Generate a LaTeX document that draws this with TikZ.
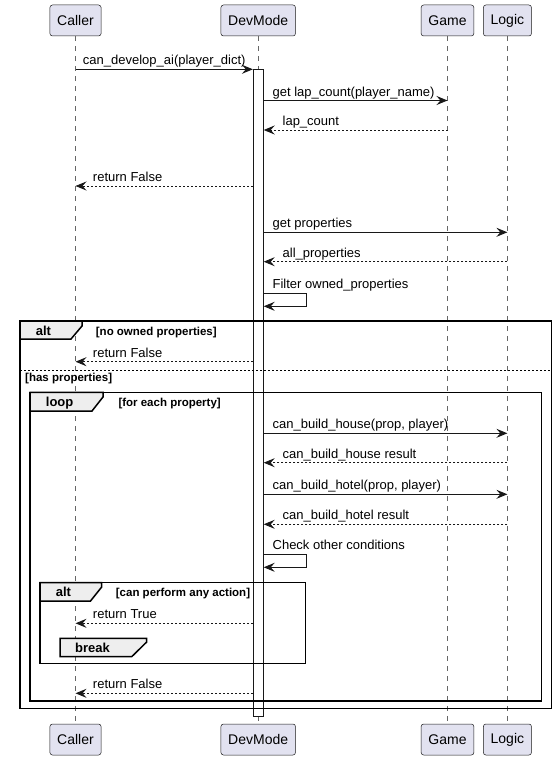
\documentclass[tikz,border=0pt]{standalone}
\usepackage{fontspec}
\setmainfont{Liberation Sans}
\usetikzlibrary{arrows.meta,positioning,calc}

\definecolor{partfill}{HTML}{E2E2F0}
\definecolor{partline}{HTML}{181818}
\definecolor{tabfill}{HTML}{EEEEEE}

\tikzset{
  part/.style={draw=partline, fill=partfill, rounded corners=2.5pt, line width=0.5pt,
    minimum height=31pt, inner xsep=7.3pt, font=\fontsize{14}{16}\selectfont},
  life/.style={draw=black!60, line width=0.5pt, dash pattern=on 5pt off 5pt},
  call/.style={draw=partline, line width=0.9pt, -{Stealth[length=11pt,width=9pt,inset=4pt]}},
  ret/.style={call, dash pattern=on 2pt off 2pt},
  lbl/.style={font=\fontsize{13}{15}\selectfont, inner sep=0pt, anchor=base west},
  frame/.style={draw=black, line width=1.5pt},
  tab/.style={frame, fill=tabfill},
  sep/.style={draw=black, line width=0.9pt, dash pattern=on 2pt off 2pt},
  grp/.style={font=\bfseries\fontsize{13}{15}\selectfont, inner sep=0pt, anchor=base west},
  cond/.style={font=\bfseries\fontsize{11.5}{13}\selectfont, inner sep=0pt, anchor=base west},
}

\begin{document}
\begin{tikzpicture}[x=1pt, y=-1pt]
  \useasboundingbox (0,0) rectangle (557,760);

  % participants, top and bottom
  \node[part] (callerT) at (75.5,20.5) {Caller};
  \node[part] (devT)    at (258.2,20.5) {DevMode};
  \node[part] (gameT)   at (447.5,20.5) {Game};
  \node[part] (logicT)  at (507.4,20.5) {Logic};
  \node[part] (callerB) at (75.5,739.5) {Caller};
  \node[part] (devB)    at (258.2,739.5) {DevMode};
  \node[part] (gameB)   at (447.5,739.5) {Game};
  \node[part] (logicB)  at (507.4,739.5) {Logic};

  % lifelines
  \draw[life] (callerT) -- (callerB);
  \draw[life] (devT) -- (devB);
  \draw[life] (gameT) -- (gameB);
  \draw[life] (logicT) -- (logicB);

  % DevMode activation
  \node[draw=partline, fill=white, line width=0.8pt, minimum width=10pt,
    minimum height=646.4pt, inner sep=0pt, anchor=north] (act) at (258.3,69.3) {};

  % outer alt
  \draw[frame] (20,321) rectangle (551.7,708.5);
  \draw[tab] (20,321) -- (82,321) -- (82,326) -- (71,339) -- (20,339) -- cycle;
  \node[grp] (altA) at (35.7,335.3) {alt};
  \node[cond] (altAif) at (95.7,335) {[no owned properties]};
  \draw[sep] (20,370.7) -- (551.7,370.7);
  \node[cond] (altAelse) at (25,381.7) {[has properties]};

  % loop over properties
  \draw[frame] (30,392.3) rectangle (541.7,701);
  \draw[tab] (30,392.3) -- (103,392.3) -- (103,397) -- (92,411) -- (30,411) -- cycle;
  \node[grp] (loopA) at (45.7,406.5) {loop};
  \node[cond] (loopAc) at (118.3,406.5) {[for each property]};

  % inner alt
  \draw[frame] (40,582.7) rectangle (305.7,663.3);
  \draw[tab] (40,582.7) -- (101.7,582.7) -- (101.7,587) -- (90.5,601) -- (40,601) -- cycle;
  \node[grp] (altB) at (55.7,596) {alt};
  \node[cond] (altBc) at (115.7,596) {[can perform any action]};

  % break
  \draw[tab] (60,638.3) -- (146.7,638.3) -- (146.7,642) -- (131.7,656.7) -- (60,656.7) -- cycle;
  \node[grp] (brk) at (75,652.3) {break};

  % messages
  \draw[call] (callerT |- 0,69.3) -- (act.west |- 0,69.3)
    node[lbl, pos=0, xshift=7pt, yshift=4.5pt] (m1) {can\_develop\_ai(player\_dict)};
  \draw[call] (act.east |- 0,100.5) -- (gameT |- 0,100.5)
    node[lbl, pos=0, xshift=8.5pt, yshift=4.5pt] (m2) {get lap\_count(player\_name)};
  \draw[ret] (gameT |- 0,130) -- (act.east |- 0,130)
    node[lbl, pos=1, xshift=18.5pt, yshift=4.5pt] (m3) {lap\_count};
  \draw[ret] (act.west |- 0,186) -- (callerT |- 0,186)
    node[lbl, pos=1, xshift=17pt, yshift=4.5pt] (m4) {return False};
  \draw[call] (act.east |- 0,232.3) -- (logicT |- 0,232.3)
    node[lbl, pos=0, xshift=8.5pt, yshift=4.5pt] (m5) {get properties};
  \draw[ret] (logicT |- 0,261.7) -- (act.east |- 0,261.7)
    node[lbl, pos=1, xshift=18.5pt, yshift=4.5pt] (m6) {all\_properties};
  \draw[call] (act.east |- 0,293.3)
    node[lbl, xshift=8.5pt, yshift=5pt] (m7) {Filter owned\_properties}
    -- ++(42.3,0) -- ++(0,13) -- (act.east |- 0,306.3);

  \draw[ret] (act.west |- 0,361.7) -- (callerT |- 0,361.7)
    node[lbl, pos=1, xshift=17pt, yshift=4.5pt] (m8) {return False};

  \draw[call] (act.east |- 0,433.3) -- (logicT |- 0,433.3)
    node[lbl, pos=0, xshift=8.5pt, yshift=4.5pt] (m9) {can\_build\_house(prop, player)};
  \draw[ret] (logicT |- 0,462.7) -- (act.east |- 0,462.7)
    node[lbl, pos=1, xshift=18.5pt, yshift=4.5pt] (m10) {can\_build\_house result};
  \draw[call] (act.east |- 0,494.3) -- (logicT |- 0,494.3)
    node[lbl, pos=0, xshift=8.5pt, yshift=4.5pt] (m11) {can\_build\_hotel(prop, player)};
  \draw[ret] (logicT |- 0,524.3) -- (act.east |- 0,524.3)
    node[lbl, pos=1, xshift=18.5pt, yshift=4.5pt] (m12) {can\_build\_hotel result};
  \draw[call] (act.east |- 0,554.7)
    node[lbl, xshift=8.5pt, yshift=5pt] (m13) {Check other conditions}
    -- ++(42.3,0) -- ++(0,12.6) -- (act.east |- 0,567.3);

  \draw[ret] (act.west |- 0,623.3) -- (callerT |- 0,623.3)
    node[lbl, pos=1, xshift=17pt, yshift=4.5pt] (m14) {return True};
  \draw[ret] (act.west |- 0,693.3) -- (callerT |- 0,693.3)
    node[lbl, pos=1, xshift=17pt, yshift=4.5pt] (m15) {return False};
\end{tikzpicture}
\end{document}
